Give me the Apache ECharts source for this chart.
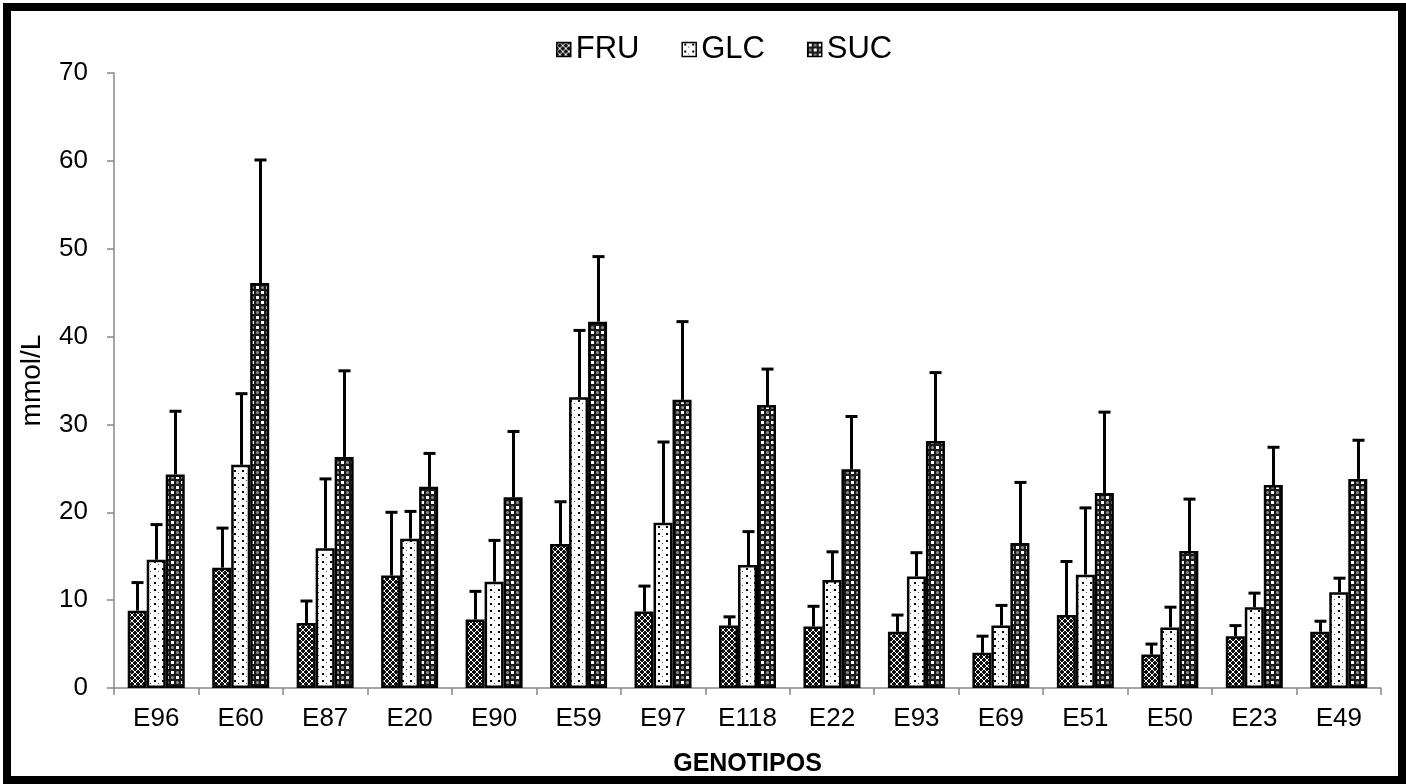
<!DOCTYPE html>
<html>
<head>
<meta charset="utf-8">
<script src="https://cdn.jsdelivr.net/npm/echarts@6/dist/echarts.min.js"></script>
<style>
  html, body { margin: 0; padding: 0; background: #fff; }
  #container { width: 1406px; height: 784px; }
</style>
</head>
<body>
<div id="container"></div>
<script>
// genotypes on the x axis
var genotipos = ['E96', 'E60', 'E87', 'E20', 'E90', 'E59', 'E97', 'E118', 'E22', 'E93', 'E69', 'E51', 'E50', 'E23', 'E49'];

// means (mmol/L)
var fru = [8.8, 13.7, 7.4, 12.8, 7.8, 16.4, 8.7, 7.1, 7.0, 6.4, 4.0, 8.3, 3.8, 5.9, 6.4];
var glc = [14.6, 25.4, 15.9, 17.0, 12.1, 33.1, 18.8, 14.0, 12.3, 12.7, 7.1, 12.9, 6.9, 9.2, 10.9];
var suc = [24.3, 46.1, 26.3, 22.9, 21.7, 41.7, 32.8, 32.2, 24.9, 28.1, 16.5, 22.2, 15.6, 23.1, 23.8];

// standard deviations (upper error bars only)
var fruSd = [3.2, 4.5, 2.5, 7.2, 3.2, 4.8, 2.9, 1.0, 2.3, 1.9, 1.9, 6.1, 1.2, 1.2, 1.2];
var glcSd = [4.0, 8.1, 7.9, 3.1, 4.7, 7.6, 9.2, 3.8, 3.2, 2.7, 2.3, 7.6, 2.3, 1.6, 1.6];
var sucSd = [7.2, 14.0, 9.8, 3.8, 7.5, 7.4, 8.9, 4.1, 6.0, 7.8, 6.9, 9.2, 5.9, 4.3, 4.4];

var yTicks = [0, 10, 20, 30, 40, 50, 60, 70];

var FONT = '"Liberation Sans", Arial, sans-serif';
var BAR_W = 19;

// small canvas tiles used as hatch fills
function tile(w, h, draw) {
  var c = document.createElement('canvas');
  c.width = w; c.height = h;
  draw(c.getContext('2d'));
  return { image: c, repeat: 'repeat' };
}

var fruFill = tile(6, 6, function (ctx) {
  ctx.fillStyle = '#111';
  ctx.fillRect(0, 0, 6, 6);
  ctx.strokeStyle = '#fff';
  ctx.lineWidth = 1;
  ctx.beginPath();
  ctx.moveTo(0, 3); ctx.lineTo(3, 0); ctx.lineTo(6, 3); ctx.lineTo(3, 6); ctx.closePath();
  ctx.stroke();
});

var glcFill = tile(8, 7, function (ctx) {
  ctx.fillStyle = '#fff';
  ctx.fillRect(0, 0, 8, 7);
  ctx.fillStyle = '#000';
  ctx.fillRect(2, 1, 2, 2);
  ctx.fillStyle = '#555';
  ctx.fillRect(6, 4, 1, 1);
});

var sucFill = tile(10, 10, function (ctx) {
  ctx.fillStyle = '#1a1a1a';
  ctx.fillRect(0, 0, 10, 10);
  ctx.fillStyle = '#fff';
  ctx.fillRect(1, 1, 3, 3);
  ctx.fillRect(6, 6, 3, 3);
  ctx.fillStyle = '#8a8a8a';
  ctx.beginPath();
  ctx.arc(7.5, 2.5, 1.6, 0, Math.PI * 2);
  ctx.arc(2.5, 7.5, 1.6, 0, Math.PI * 2);
  ctx.fill();
});

function errData(means, sds) {
  return means.map(function (m, i) { return [i, m, +(m + sds[i]).toFixed(2)]; });
}

function errSeries(name, means, sds, offset) {
  return {
    name: name,
    type: 'custom',
    z: 5,
    silent: true,
    renderItem: function (params, api) {
      var base = api.coord([api.value(0), api.value(1)]);
      var top = api.coord([api.value(0), api.value(2)]);
      var x = Math.round(base[0] + offset) + 0.5;
      var st = { stroke: '#000', lineWidth: 3 };
      return {
        type: 'group',
        children: [
          { type: 'line', shape: { x1: x, y1: base[1], x2: x, y2: top[1] }, style: st },
          { type: 'line', shape: { x1: x - 6, y1: top[1], x2: x + 6, y2: top[1] }, style: st }
        ]
      };
    },
    encode: { x: 0, y: [1, 2] },
    data: errData(means, sds)
  };
}

function barSeries(name, values, fill) {
  return {
    name: name,
    type: 'bar',
    barWidth: BAR_W,
    barGap: '0%',
    itemStyle: { color: fill, borderColor: '#000', borderWidth: 2.5 },
    data: values
  };
}

var chart = echarts.init(document.getElementById('container'));

var option = {
  animation: false,
  backgroundColor: '#fff',
  textStyle: { fontFamily: FONT, color: '#000' },
  graphic: [{
    type: 'rect',
    shape: { x: 7, y: 7, width: 1395, height: 773 },
    style: { fill: 'none', stroke: '#000', lineWidth: 8 },
    z: 100
  }],
  legend: {
    data: ['FRU', 'GLC', 'SUC'],
    left: 556,
    top: 34,
    padding: 0,
    itemWidth: 14,
    itemHeight: 14,
    itemGap: 42,
    icon: 'rect',
    itemStyle: { borderColor: '#000', borderWidth: 1.5 },
    textStyle: { fontFamily: FONT, fontSize: 31, color: '#000' }
  },
  grid: { left: 114, right: 25, top: 73, bottom: 96, containLabel: false },
  xAxis: {
    type: 'category',
    data: genotipos,
    name: 'GENOTIPOS',
    nameLocation: 'middle',
    nameGap: 64,
    nameTextStyle: { fontFamily: FONT, fontSize: 25, fontWeight: 'bold', color: '#000' },
    axisLine: { lineStyle: { color: '#888', width: 1.5 } },
    axisTick: { show: true, length: 7, interval: 0, lineStyle: { color: '#888', width: 1.5 } },
    axisLabel: { fontFamily: FONT, fontSize: 26, color: '#000', margin: 18, interval: 0 }
  },
  yAxis: {
    type: 'value',
    min: yTicks[0],
    max: yTicks[yTicks.length - 1],
    interval: 10,
    name: 'mmol/L',
    nameLocation: 'middle',
    nameGap: 68,
    nameTextStyle: { fontFamily: FONT, fontSize: 28, color: '#000' },
    splitLine: { show: false },
    axisLine: { show: true, lineStyle: { color: '#888', width: 1.5 } },
    axisTick: { show: true, length: 7, lineStyle: { color: '#888', width: 1.5 } },
    axisLabel: { fontFamily: FONT, fontSize: 26, color: '#000', margin: 26 }
  },
  series: [
    barSeries('FRU', fru, fruFill),
    barSeries('GLC', glc, glcFill),
    barSeries('SUC', suc, sucFill),
    errSeries('FRU sd', fru, fruSd, -BAR_W),
    errSeries('GLC sd', glc, glcSd, 0),
    errSeries('SUC sd', suc, sucSd, BAR_W)
  ]
};

chart.setOption(option);
</script>
</body>
</html>
